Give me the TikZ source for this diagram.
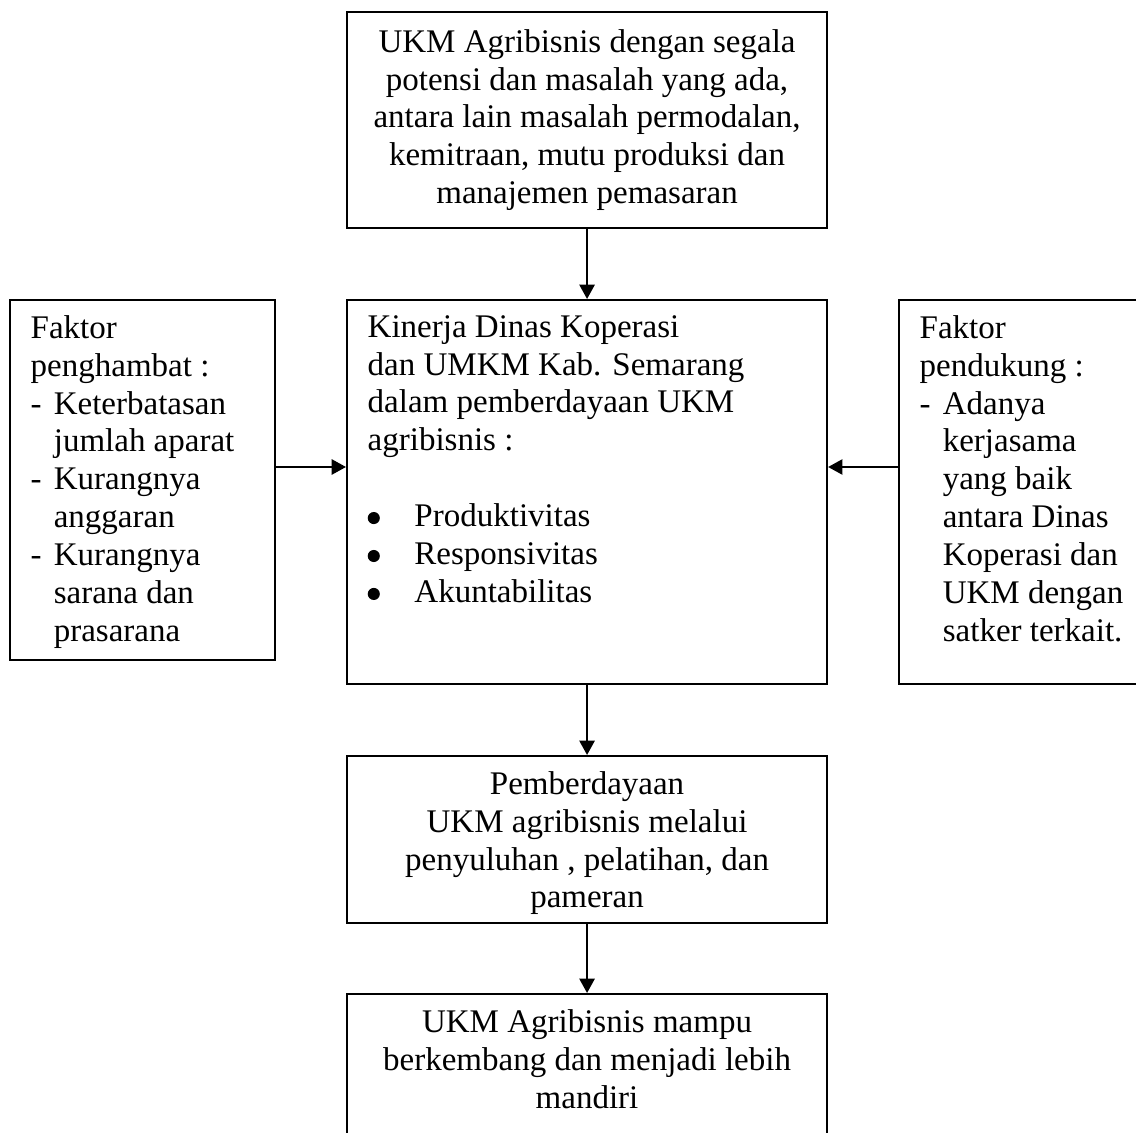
\documentclass[tikz,border=0pt]{standalone}
\usepackage{fontspec}
\setmainfont{Liberation Serif}
\usetikzlibrary{arrows.meta}

\newcommand{\strip}{\makebox[8.4pt][l]{-}}
\newcommand{\sambung}{\hspace*{8.4pt}}
\newcommand{\titik}{\makebox[17pt][l]{\tikz[baseline=0pt]\fill (2.2pt,3.2pt) circle (2.2pt);}}

\begin{document}
\begin{tikzpicture}
[x=0.3636pt,y=-0.3636pt,
 every node/.style={font=\fontsize{12}{13.8}\selectfont},
 kotak/.style={draw,line width=.8pt,anchor=north west,inner xsep=7.5pt,inner ysep=5.5pt},
 panah/.style={line width=.8pt,-{Triangle[length=5.2pt,width=5.5pt]}}]
\useasboundingbox (0,0) rectangle (1136,1133);
\node[kotak] (atas) at (346,11) {\parbox[c][67.5pt][c]{159.5pt}{\centering
UKM Agribisnis dengan segala\\ potensi dan masalah yang ada,\\ antara lain masalah permodalan,\\ kemitraan, mutu produksi dan\\ manajemen pemasaran}};
\node[kotak] (tengah) at (346,299) {\parbox[c][128.6pt][t]{159.5pt}{
Kinerja Dinas Koperasi\\ dan UMKM Kab. Semarang\\ dalam pemberdayaan UKM\\ agribisnis :\\[13.8pt]
\titik Produktivitas\\ \titik Responsivitas\\ \titik Akuntabilitas}};
\node[kotak] (kiri) at (9,299) {\parbox[c][119.9pt][t]{81.4pt}{
Faktor\\ penghambat :\\ \strip Keterbatasan\\ \sambung jumlah aparat\\ \strip Kurangnya\\ \sambung anggaran\\ \strip Kurangnya\\ \sambung sarana dan\\ \sambung prasarana}};
\node[kotak] (kanan) at (898,299) {\parbox[c][128.6pt][t]{75pt}{
Faktor\\ pendukung :\\ \strip Adanya\\ \sambung kerjasama\\ \sambung yang baik\\ \sambung antara Dinas\\ \sambung Koperasi dan\\ \sambung UKM dengan\\ \sambung satker terkait.}};
\node[kotak] (berdaya) at (346,755) {\parbox[c][49.7pt][t]{159.5pt}{\centering
Pemberdayaan\\ UKM agribisnis melalui\\ penyuluhan , pelatihan, dan\\ pameran}};
\node[kotak] (mandiri) at (346,993) {\parbox[c][47.2pt][t]{159.5pt}{\centering
UKM Agribisnis mampu\\ berkembang dan menjadi lebih\\ mandiri}};
\coordinate (ka) at (0,467);
\draw[panah] (atas) -- (tengah);
\draw[panah] (kiri.east |- ka) -- (tengah.west |- ka);
\draw[panah] (kanan.west |- ka) -- (tengah.east |- ka);
\draw[panah] (tengah) -- (berdaya);
\draw[panah] (berdaya) -- (mandiri);
\end{tikzpicture}
\end{document}
